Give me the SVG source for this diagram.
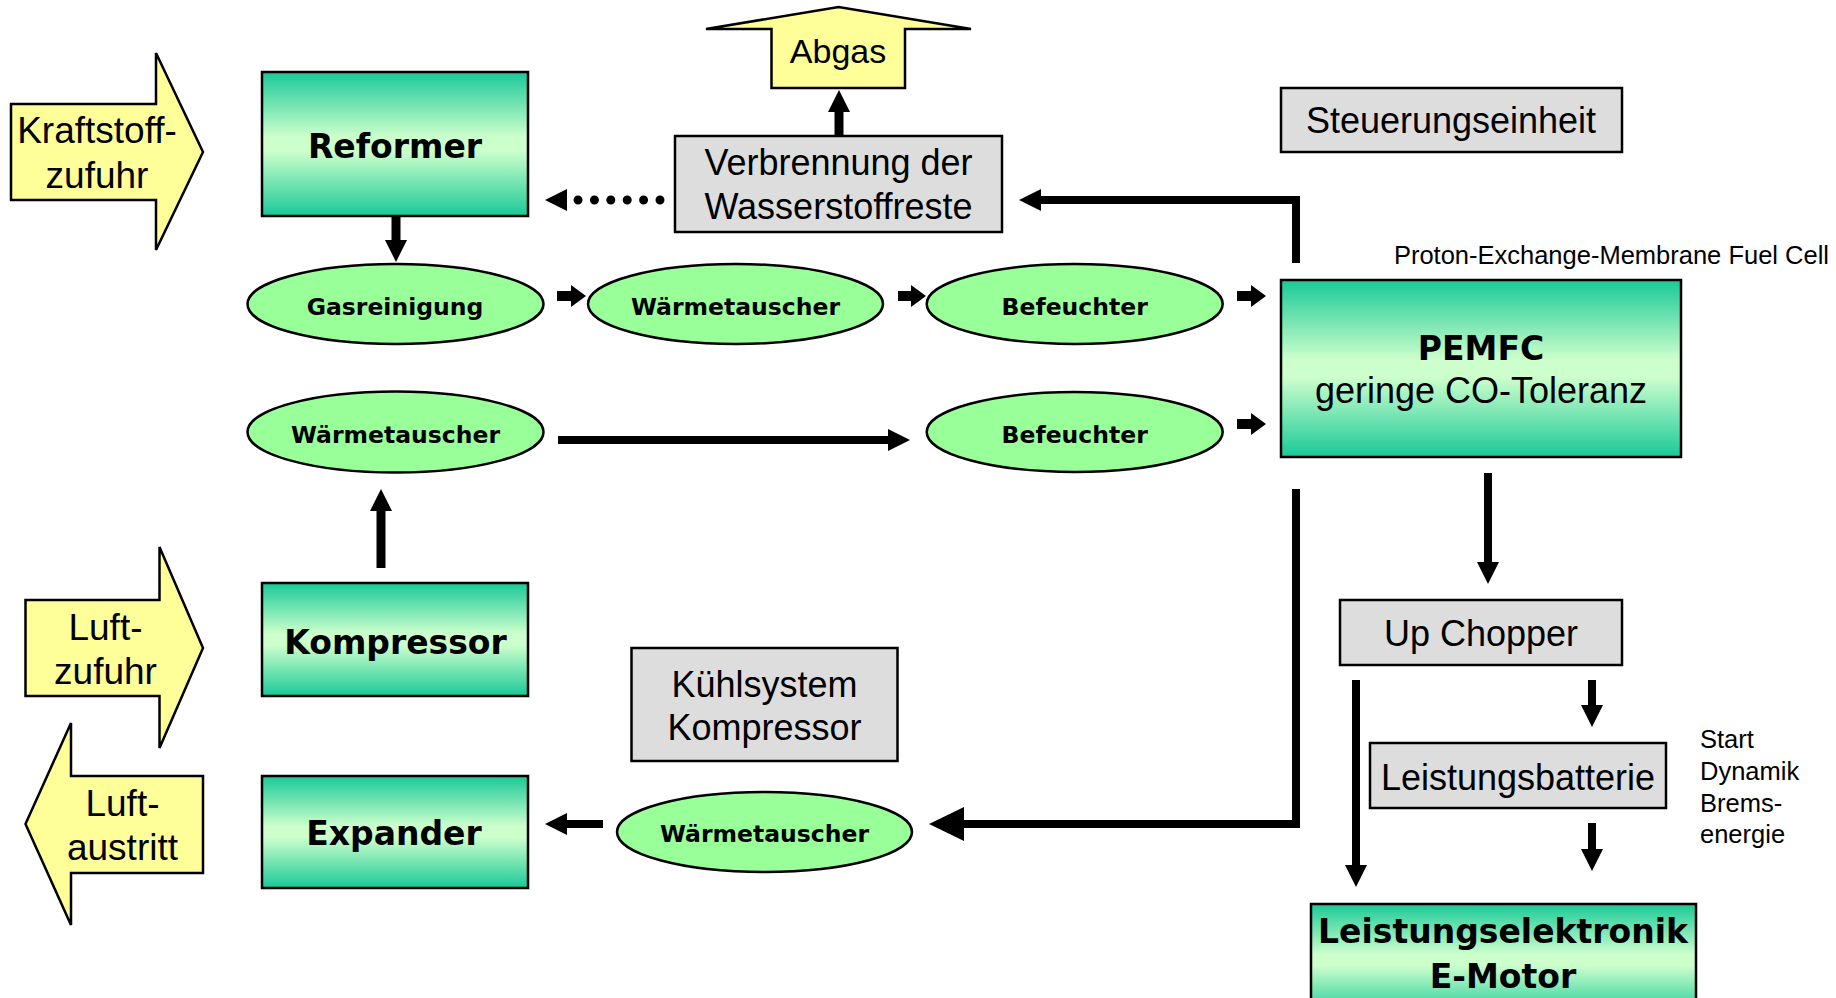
<svg xmlns="http://www.w3.org/2000/svg" width="1836" height="998" viewBox="0 0 1836 998">
<defs>
<linearGradient id="grn" x1="0" y1="0" x2="0" y2="1">
<stop offset="0" stop-color="#19C998"/>
<stop offset="0.45" stop-color="#CCFFCC"/>
<stop offset="0.55" stop-color="#CCFFCC"/>
<stop offset="1" stop-color="#19C998"/>
</linearGradient>
<marker id="ah" markerUnits="userSpaceOnUse" viewBox="0 0 22 22" markerWidth="22" markerHeight="22" refX="1" refY="11" orient="auto"><path d="M0,0 L22,11 L0,22 z" fill="#000"/></marker>
<marker id="ahs" markerUnits="userSpaceOnUse" viewBox="0 0 15 22" markerWidth="15" markerHeight="22" refX="1" refY="11" orient="auto"><path d="M0,0 L15,11 L0,22 z" fill="#000"/></marker>
<marker id="ahb" markerUnits="userSpaceOnUse" viewBox="0 0 35 34" markerWidth="35" markerHeight="34" refX="1" refY="17" orient="auto"><path d="M0,0 L35,17 L0,34 z" fill="#000"/></marker>
</defs>
<style>
.gbox{fill:url(#grn);stroke:#000;stroke-width:2.5}
.gray{fill:#DDDDDD;stroke:#000;stroke-width:2.5}
.ell{fill:#99FF99;stroke:#000;stroke-width:2.5}
.yel{fill:#FFFF99;stroke:#000;stroke-width:2.5;stroke-linejoin:miter}
.t{font-family:"Liberation Sans",Arial,sans-serif;font-size:36px;fill:#000;text-anchor:middle}
.ta{font-family:"Liberation Sans",Arial,sans-serif;font-size:37px;fill:#000;text-anchor:middle}
.tb{font-family:"DejaVu Sans",Verdana,sans-serif;font-weight:bold;font-size:33px;fill:#000;text-anchor:middle}
.te{font-family:"DejaVu Sans",Verdana,sans-serif;font-weight:bold;font-size:23.5px;fill:#000;text-anchor:middle}
.ts{font-family:"Liberation Sans",Arial,sans-serif;font-size:25.5px;fill:#000}
.c{fill:none;stroke:#000;stroke-width:8;stroke-linejoin:miter}
.cs{fill:none;stroke:#000;stroke-width:10}
</style>
<rect width="1836" height="998" fill="#fff"/>

<g id="kraftstoffzufuhr">
<polygon class="yel" points="11,104 156,104 156,53 203,152 156,250 156,200 11,200"/>
<text class="ta" x="97" y="143">Kraftstoff-</text>
<text class="ta" x="97" y="188">zufuhr</text>
</g>
<g id="luftzufuhr">
<polygon class="yel" points="25.5,600 159.5,600 159.5,547 203,648 159.5,748 159.5,696 25.5,696"/>
<text class="ta" x="105.5" y="640">Luft-</text>
<text class="ta" x="105.5" y="684">zufuhr</text>
</g>
<g id="luftaustritt">
<polygon class="yel" points="203,776 71,776 71,723 25.5,824 71,925 71,873 203,873"/>
<text class="ta" x="122.5" y="816">Luft-</text>
<text class="ta" x="122.5" y="860">austritt</text>
</g>
<g id="abgas">
<polygon class="yel" points="771.5,88 771.5,29 706,29 838.6,7 971,29 905,29 905,88"/>
<text class="t" x="838" y="63" style="font-size:34px">Abgas</text>
</g>

<g id="reformer">
<rect class="gbox" x="262" y="72" width="266" height="144"/>
<text class="tb" x="395" y="158">Reformer</text>
</g>
<g id="kompressor">
<rect class="gbox" x="262" y="583" width="266" height="113"/>
<text class="tb" x="395.5" y="654">Kompressor</text>
</g>
<g id="expander">
<rect class="gbox" x="262" y="776" width="266" height="112"/>
<text class="tb" x="394" y="845">Expander</text>
</g>
<g id="verbrennung">
<rect class="gray" x="675" y="136" width="327" height="96"/>
<text class="t" x="838.5" y="175">Verbrennung der</text>
<text class="t" x="838.5" y="219">Wasserstoffreste</text>
</g>
<g id="steuerungseinheit">
<rect class="gray" x="1281" y="88" width="341" height="64"/>
<text class="t" x="1451" y="133">Steuerungseinheit</text>
</g>
<g id="pemfc">
<text class="ts" x="1829" y="264" text-anchor="end">Proton-Exchange-Membrane Fuel Cell</text>
<rect class="gbox" x="1281" y="280" width="400" height="177"/>
<text class="tb" x="1481" y="360">PEMFC</text>
<text class="t" x="1481" y="403">geringe CO-Toleranz</text>
</g>
<g id="kuehlsystem">
<rect class="gray" x="631.5" y="648" width="266" height="113"/>
<text class="t" x="764.5" y="697">Kühlsystem</text>
<text class="t" x="764.5" y="740">Kompressor</text>
</g>
<g id="upchopper">
<rect class="gray" x="1340" y="600" width="282" height="65"/>
<text class="t" x="1481" y="646">Up Chopper</text>
</g>
<g id="leistungsbatterie">
<rect class="gray" x="1370" y="743" width="296" height="65"/>
<text class="t" x="1518" y="790">Leistungsbatterie</text>
<text class="ts" x="1700" y="748">Start</text>
<text class="ts" x="1700" y="780">Dynamik</text>
<text class="ts" x="1700" y="812">Brems-</text>
<text class="ts" x="1700" y="843">energie</text>
</g>
<g id="leistungselektronik">
<rect class="gbox" x="1311" y="904" width="385" height="112"/>
<text class="tb" x="1503" y="943">Leistungselektronik</text>
<text class="tb" x="1503" y="988">E-Motor</text>
</g>

<g id="gasreinigung">
<ellipse class="ell" cx="395.5" cy="304" rx="148" ry="40"/>
<text class="te" x="395" y="315">Gasreinigung</text>
</g>
<g id="waermetauscher1">
<ellipse class="ell" cx="735.5" cy="304" rx="147.5" ry="40"/>
<text class="te" x="735.5" y="315">Wärmetauscher</text>
</g>
<g id="befeuchter1">
<ellipse class="ell" cx="1074.7" cy="304" rx="148" ry="40"/>
<text class="te" x="1074.7" y="315">Befeuchter</text>
</g>
<g id="waermetauscher2">
<ellipse class="ell" cx="395.5" cy="432" rx="148" ry="40.5"/>
<text class="te" x="395.5" y="443">Wärmetauscher</text>
</g>
<g id="befeuchter2">
<ellipse class="ell" cx="1074.7" cy="432" rx="148" ry="40"/>
<text class="te" x="1074.7" y="443">Befeuchter</text>
</g>
<g id="waermetauscher3">
<ellipse class="ell" cx="764.5" cy="832" rx="147.5" ry="40"/>
<text class="te" x="764.5" y="842">Wärmetauscher</text>
</g>

<g id="connectors">
<path class="c" style="stroke-width:9" d="M396,216 V241" marker-end="url(#ah)"/>
<path class="cs" d="M557,296 H572" marker-end="url(#ahs)"/>
<path class="cs" d="M898,296 H912" marker-end="url(#ahs)"/>
<path class="cs" d="M1237,296 H1252" marker-end="url(#ahs)"/>
<path class="cs" d="M1237,424 H1252" marker-end="url(#ahs)"/>
<path class="c" d="M558,440 H889" marker-end="url(#ah)"/>
<path class="c" style="stroke-width:9" d="M381,568 V510" marker-end="url(#ah)"/>
<path class="c" d="M1296,263 V200 H1040" marker-end="url(#ah)"/>
<path d="M660,200 H566" fill="none" stroke="#000" stroke-width="9" stroke-linecap="round" stroke-dasharray="0 16.4" marker-end="url(#ah)"/>
<path class="c" style="stroke-width:9" d="M839,136 V111" marker-end="url(#ah)"/>
<path class="c" d="M1296,489 V824 H963" marker-end="url(#ahb)"/>
<path class="c" d="M603,824 H566" marker-end="url(#ah)"/>
<path class="c" d="M1488,473 V563" marker-end="url(#ah)"/>
<path class="c" d="M1356,680 V866" marker-end="url(#ah)"/>
<path class="c" d="M1592,680 V706" marker-end="url(#ah)"/>
<path class="c" d="M1592,823 V850" marker-end="url(#ah)"/>
</g>
</svg>
